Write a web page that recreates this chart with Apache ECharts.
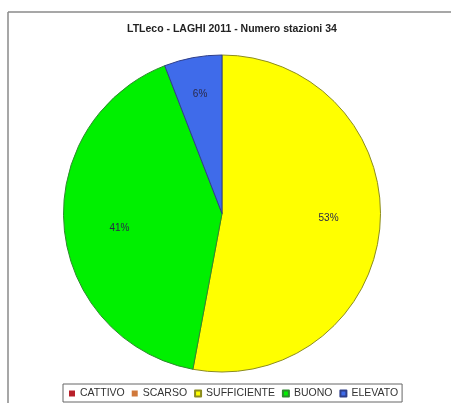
<!DOCTYPE html>
<html>
<head>
<meta charset="utf-8">
<script src="https://cdn.jsdelivr.net/npm/echarts@6/dist/echarts.min.js"></script>
<style>
html,body{margin:0;padding:0;background:#fff;}
#chart{width:451px;height:403px;}
</style>
</head>
<body>
<div id="chart"></div>
<script>
// Data
var titleText = 'LTLeco - LAGHI 2011 - Numero stazioni 34';
var categories = ['CATTIVO', 'SCARSO', 'SUFFICIENTE', 'BUONO', 'ELEVATO'];
var values = [0, 0, 18, 14, 2];
var percentLabels = ['0%', '0%', '53%', '41%', '6%'];

var colors = ['#B8202A', '#D0783A', '#FFFF00', '#00F000', '#3F6BEA'];
var borders = ['#7a1010', '#8a4a20', '#8C8C1E', '#2E8A2E', '#2F3F8A'];
// fine label nudges (style only)
var labelNudges = [[0, 0], [0, 0], [-7, -6], [11, 4], [-1, -7]];

var chart = echarts.init(document.getElementById('chart'), null, {renderer: 'canvas'});

var mainData = categories.map(function (c, i) {
  return {
    name: c,
    value: values[i],
    itemStyle: {color: colors[i], borderColor: borders[i], borderWidth: values[i] > 0 ? 1 : 0}
  };
});
var labelData = categories.map(function (c, i) {
  return {
    name: c,
    value: values[i],
    label: {show: values[i] > 0, formatter: percentLabels[i], offset: labelNudges[i]}
  };
});

chart.setOption({
  animation: false,
  backgroundColor: '#ffffff',
  title: {
    text: titleText,
    left: 127,
    top: 24,
    padding: 0,
    textStyle: {fontFamily: 'Liberation Sans, Arial, sans-serif', fontSize: 10.5, fontWeight: 'bold', color: '#222'}
  },
  legend: {
    data: categories,
    left: 63,
    top: 384,
    orient: 'horizontal',
    icon: 'rect',
    itemWidth: 6,
    itemHeight: 6,
    itemGap: 7,
    padding: [4, 4, 3, 6],
    borderColor: '#666',
    borderWidth: 1,
    textStyle: {fontFamily: 'Liberation Sans, Arial, sans-serif', fontSize: 10.5, color: '#333'}
  },
  graphic: [
    {type: 'line', shape: {x1: 8, y1: 12, x2: 451, y2: 12}, style: {stroke: '#8a8a8a', lineWidth: 1.5}, silent: true},
    {type: 'line', shape: {x1: 8, y1: 12, x2: 8, y2: 403}, style: {stroke: '#8a8a8a', lineWidth: 1.5}, silent: true}
  ],
  series: [
    {
      type: 'pie',
      name: 'main',
      center: [222, 213.5],
      radius: [0, 158.5],
      startAngle: 90,
      clockwise: true,
      stillShowZeroSum: false,
      avoidLabelOverlap: false,
      label: {show: false},
      labelLine: {show: false},
      emphasis: {disabled: true},
      data: mainData
    },
    {
      type: 'pie',
      name: 'labels',
      center: [222, 213.5],
      radius: [0, 222],
      startAngle: 90,
      clockwise: true,
      silent: true,
      avoidLabelOverlap: false,
      itemStyle: {color: 'rgba(0,0,0,0)', borderWidth: 0},
      label: {
        show: true,
        position: 'inside',
        fontFamily: 'Liberation Sans, Arial, sans-serif',
        fontSize: 10,
        color: '#2a2a48'
      },
      labelLine: {show: false},
      emphasis: {disabled: true},
      data: labelData
    }
  ]
});
</script>
</body>
</html>
